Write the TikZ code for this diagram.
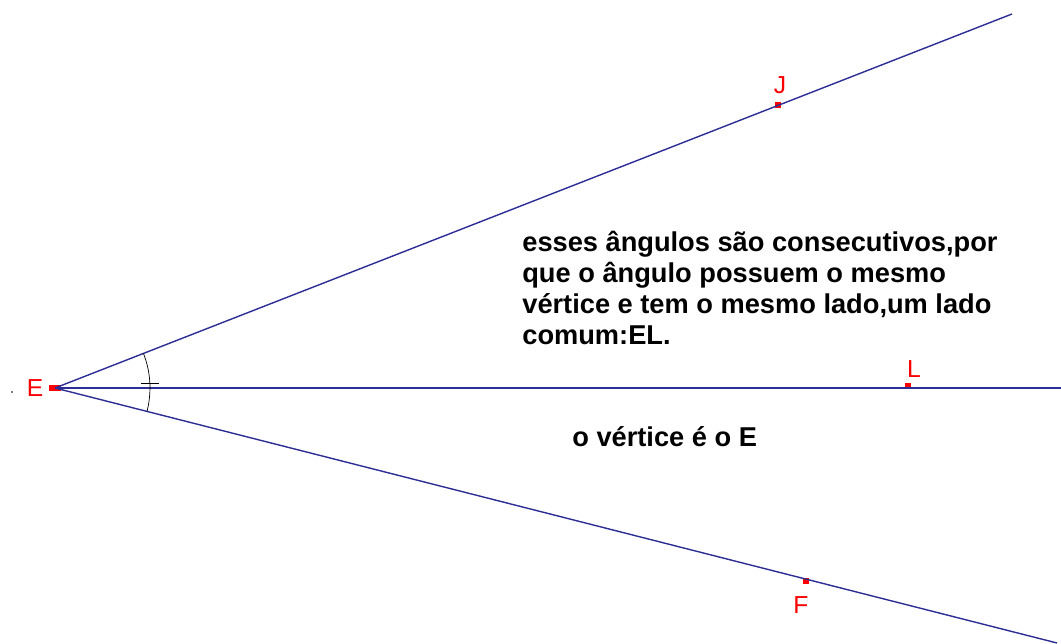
\documentclass[tikz,border=0pt]{standalone}
\usepackage{fontspec}
\setmainfont{Liberation Sans}
\usetikzlibrary{positioning, calc}
\definecolor{lineBlue}{RGB}{45,45,150}
\definecolor{ptRed}{RGB}{250,0,0}

\begin{document}
\begin{tikzpicture}[
  x=0.02cm, y=-0.02cm,
  ray/.style={draw=lineBlue, line width=0.8pt},
  pt/.style={fill=ptRed, inner sep=0pt, minimum size=3pt},
  lbl/.style={text=ptRed, font=\fontsize{14}{14}\selectfont, inner sep=0pt},
  note/.style={font=\fontsize{15.5}{17.6}\selectfont\bfseries, align=left, inner sep=0pt},
]
  \useasboundingbox (0,0) rectangle (1061,644);

  % points
  \node[pt, minimum width=7pt, minimum height=3pt] (E) at (55,388) {};
  \node[pt] (J) at (778,105) {};
  \node[pt] (L) at (908,386) {};
  \node[pt] (F) at (806,581) {};
  \coordinate (Jend) at (1012,14);
  \coordinate (Lend) at (1061,388);
  \coordinate (Fend) at (1057,643);
  \fill (12,392) circle (0.5pt);

  % sides
  \draw[ray] (E.center) -- (Jend);
  \draw[ray] (E.center) -- (Lend);
  \draw[ray] (E.center) -- (Fend);

  % angle marks
  \draw[thin] ($(E.center)!1.9cm!(Jend)$) arc[start angle=21.4, end angle=0, radius=1.9cm];
  \draw[thin] ($(E.center)!1.9cm!(Lend)$) arc[start angle=0, end angle=-14.4, radius=1.9cm];
  \draw[thin] (141,383) -- (159,383);

  % labels
  \node[lbl] (labE) at (35,388) {E};
  \node[lbl] (labJ) at (780,85) {J};
  \node[lbl] (labL) at (914,369) {L};
  \node[lbl] (labF) at (801,605) {F};

  % texts
  \node[note, anchor=north west] (why) at (522,231)
    {esses ângulos são consecutivos,por\\
     que o ângulo possuem o mesmo\\
     vértice e tem o mesmo lado,um lado\\
     comum:EL.};
  \node[note, anchor=west] (vert) at (572,437) {o vértice é o E};
\end{tikzpicture}
\end{document}
